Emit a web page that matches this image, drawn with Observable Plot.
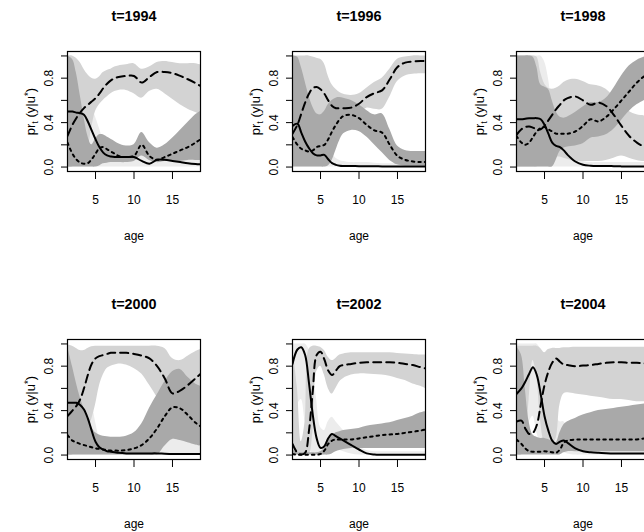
<!DOCTYPE html>
<html><head><meta charset="utf-8">
<script src="https://cdn.jsdelivr.net/npm/d3@7"></script>
<script src="https://cdn.jsdelivr.net/npm/@observablehq/plot@0.6"></script>
<style>
html,body{margin:0;padding:0;background:#fff;overflow:hidden}
#wrap{position:relative;width:644px;height:532px;overflow:hidden;background:#fff}
.panel{position:absolute;width:225px;height:288px}
</style>
</head><body><div id="wrap"></div>
<script>
const ages = [1.36, 2, 2.5, 3, 3.5, 4, 4.5, 5, 5.5, 6, 6.5, 7, 7.5, 8, 9, 10, 11, 12, 13, 14, 15, 16, 17, 18, 18.64];
const years = [1994, 1996, 1998, 2000, 2002, 2004];
const xTicks = [5, 10, 15];
const yTicks = [0, 0.2, 0.4, 0.6, 0.8, 1.0];
const yLabels = ["0.0", "", "0.4", "", "0.8", ""];
const Z = ages.map(() => 0);

// 1994
const solid1994 = [0.50,0.50,0.49,0.485,0.47,0.41,0.33,0.25,0.18,0.13,0.105,0.095,0.09,0.09,0.09,0.09,0.055,0.03,0.065,0.065,0.055,0.045,0.035,0.028,0.025];
const dashed1994 = [0.28,0.38,0.44,0.49,0.53,0.56,0.59,0.62,0.66,0.71,0.75,0.78,0.80,0.81,0.82,0.82,0.76,0.81,0.855,0.855,0.845,0.82,0.79,0.755,0.73];
const dotted1994 = [0.22,0.12,0.07,0.04,0.03,0.035,0.07,0.12,0.17,0.18,0.16,0.14,0.12,0.10,0.09,0.10,0.20,0.10,0.065,0.09,0.12,0.15,0.18,0.22,0.25];
const vlHi1994 = [0.9,0.9,0.85,0.75,0.65,0.6,0.55,0.45,0.35,0.25,0.2,0.17,0.15,0.15,0.15,0.14,0.12,0.09,0.1,0.1,0.09,0.08,0.07,0.06,0.06];
const ltLo1994 = [0,0,0.05,0.1,0.15,0.18,0.35,0.5,0.56,0.6,0.63,0.66,0.68,0.69,0.69,0.66,0.62,0.68,0.7,0.66,0.61,0.56,0.52,0.49,0.47];
const ltHi1994 = [1,1,0.98,0.94,0.88,0.83,0.8,0.79,0.81,0.85,0.87,0.88,0.9,0.91,0.92,0.93,0.88,0.9,0.94,0.95,0.94,0.93,0.93,0.93,0.92];
const dkLo1994 = [0,0,0,0,0,0,0,0,0.01,0.03,0.035,0.04,0.04,0.04,0.04,0.05,0.1,0.06,0.04,0.05,0.05,0.05,0.06,0.06,0.06];
const dkHi1994 = [1,0.97,0.85,0.65,0.45,0.28,0.2,0.25,0.29,0.29,0.27,0.25,0.23,0.21,0.19,0.2,0.31,0.22,0.17,0.2,0.26,0.33,0.4,0.47,0.5];

// 1996
const solid1996 = [0.37,0.39,0.31,0.23,0.17,0.125,0.105,0.105,0.11,0.07,0.035,0.02,0.012,0.01,0.01,0.008,0.008,0.008,0.006,0.006,0.005,0.005,0.005,0.005,0.005];
const dashed1996 = [0.3,0.38,0.48,0.58,0.66,0.71,0.72,0.7,0.66,0.6,0.55,0.53,0.53,0.53,0.535,0.57,0.63,0.665,0.69,0.79,0.9,0.94,0.95,0.955,0.955];
const dotted1996 = [0.27,0.2,0.165,0.15,0.14,0.15,0.18,0.19,0.2,0.25,0.32,0.38,0.43,0.46,0.47,0.44,0.38,0.33,0.31,0.2,0.1,0.065,0.05,0.045,0.045];
const vlHi1996 = [0.9,0.85,0.75,0.65,0.55,0.45,0.38,0.32,0.25,0.17,0.12,0.08,0.06,0.05,0.04,0.04,0.04,0.035,0.03,0.03,0.03,0.03,0.03,0.03,0.03];
const ltLo1996 = [0.1,0.15,0.2,0.3,0.38,0.42,0.45,0.46,0.45,0.44,0.44,0.44,0.44,0.44,0.45,0.48,0.53,0.52,0.52,0.63,0.77,0.82,0.835,0.84,0.84];
const ltHi1996 = [1,1,1,1,1,0.99,0.98,0.97,0.93,0.82,0.74,0.7,0.67,0.655,0.645,0.66,0.71,0.76,0.8,0.88,0.97,0.99,1,1,1];
const dkLo1996 = [0,0,0,0,0,0,0,0,0,0.01,0.06,0.15,0.24,0.3,0.33,0.32,0.27,0.2,0.13,0.06,0.02,0.01,0.01,0.01,0.01];
const dkHi1996 = [1,0.99,0.9,0.77,0.64,0.54,0.48,0.47,0.5,0.56,0.6,0.62,0.625,0.62,0.6,0.56,0.51,0.47,0.48,0.34,0.19,0.15,0.14,0.14,0.14];

// 1998
const solid1998 = [0.43,0.43,0.435,0.44,0.44,0.44,0.43,0.38,0.3,0.22,0.19,0.18,0.15,0.11,0.05,0.02,0.012,0.01,0.01,0.008,0.006,0.005,0.005,0.005,0.005];
const dashed1998 = [0.29,0.34,0.36,0.365,0.355,0.34,0.34,0.37,0.42,0.47,0.52,0.56,0.6,0.62,0.635,0.6,0.56,0.58,0.55,0.47,0.37,0.28,0.22,0.18,0.16];
const dotted1998 = [0.28,0.22,0.2,0.22,0.27,0.32,0.35,0.36,0.34,0.32,0.3,0.3,0.3,0.3,0.32,0.37,0.43,0.41,0.45,0.52,0.6,0.68,0.76,0.82,0.85];
const vlHi1998 = [1,1,1,1,1,1,1,0.95,0.8,0.55,0.38,0.3,0.22,0.16,0.08,0.05,0.04,0.04,0.04,0.04,0.04,0.04,0.04,0.04,0.04];
const ltLo1998 = [0,0,0,0,0,0,0.02,0.04,0.06,0.08,0.09,0.09,0.08,0.07,0.05,0.05,0.05,0.05,0.06,0.08,0.1,0.08,0.06,0.05,0.05];
const ltHi1998 = [1,1,1,1,1,0.99,0.85,0.75,0.71,0.7,0.71,0.73,0.76,0.78,0.79,0.77,0.74,0.73,0.7,0.63,0.56,0.5,0.47,0.46,0.45];
const dkLo1998 = [0,0,0,0,0,0,0,0,0,0,0.06,0.14,0.17,0.18,0.19,0.21,0.26,0.27,0.29,0.34,0.42,0.5,0.56,0.6,0.62];
const dkHi1998 = [1,1,1,1,0.99,0.9,0.74,0.72,0.7,0.6,0.5,0.45,0.44,0.45,0.49,0.54,0.58,0.58,0.62,0.71,0.82,0.91,0.96,0.99,1];

// 2000
const solid2000 = [0.47,0.47,0.47,0.45,0.41,0.33,0.22,0.12,0.07,0.05,0.035,0.03,0.025,0.02,0.015,0.015,0.015,0.015,0.015,0.012,0.01,0.01,0.01,0.01,0.01];
const dashed2000 = [0.35,0.4,0.44,0.5,0.6,0.72,0.82,0.87,0.89,0.9,0.91,0.92,0.92,0.92,0.92,0.91,0.895,0.87,0.8,0.69,0.555,0.58,0.63,0.69,0.73];
const dotted2000 = [0.18,0.13,0.115,0.1,0.09,0.08,0.07,0.06,0.055,0.05,0.045,0.04,0.04,0.04,0.045,0.06,0.09,0.15,0.24,0.35,0.43,0.42,0.36,0.29,0.26];
const vlHi2000 = [0.75,0.75,0.72,0.7,0.65,0.58,0.48,0.3,0.15,0.08,0.05,0.04,0.04,0.04,0.04,0.04,0.04,0.04,0.05,0.1,0.14,0.14,0.13,0.12,0.12];
const ltLo2000 = [0,0,0.05,0.1,0.15,0.22,0.32,0.45,0.62,0.72,0.78,0.8,0.81,0.82,0.81,0.78,0.73,0.63,0.52,0.4,0.3,0.3,0.35,0.4,0.42];
const ltHi2000 = [0.99,0.98,0.96,0.94,0.94,0.96,0.975,0.98,0.98,0.98,0.98,0.98,0.98,0.98,0.98,0.98,0.98,0.98,0.98,0.96,0.87,0.85,0.89,0.93,0.95];
const dkLo2000 = [0,0,0,0,0,0,0,0,0,0,0,0,0,0,0,0,0,0,0,0.08,0.14,0.13,0.11,0.09,0.08];
const dkHi2000 = [0.98,0.8,0.65,0.52,0.42,0.33,0.25,0.2,0.18,0.17,0.165,0.16,0.16,0.16,0.17,0.2,0.28,0.42,0.54,0.66,0.75,0.77,0.7,0.64,0.62];

// 2002
const solid2002 = [0.82,0.95,0.97,0.9,0.65,0.36,0.15,0.065,0.08,0.15,0.19,0.17,0.15,0.13,0.09,0.05,0.015,0.005,0.003,0.002,0.002,0.002,0.002,0.002,0.002];
const dashed2002 = [0.1,0.02,0.005,0.02,0.22,0.58,0.9,0.93,0.86,0.76,0.72,0.76,0.8,0.81,0.82,0.83,0.835,0.835,0.835,0.835,0.83,0.82,0.81,0.79,0.78];
const dotted2002 = [0.01,0.003,0.003,0.003,0.003,0.003,0.003,0.01,0.04,0.1,0.13,0.14,0.14,0.14,0.14,0.15,0.16,0.17,0.18,0.185,0.19,0.2,0.21,0.22,0.23];
const vlLo2002 = [0.3,0.45,0.5,0.3,0.1,0,0,0,0,0.02,0.05,0.05,0.04,0.03,0.01,0,0,0,0,0,0,0,0,0,0];
const vlHi2002 = [1,1,1,1,0.95,0.8,0.5,0.25,0.22,0.3,0.34,0.3,0.26,0.22,0.14,0.08,0.04,0.03,0.03,0.03,0.03,0.03,0.03,0.03,0.03];
const ltLo2002 = [0,0,0,0,0,0.2,0.75,0.8,0.72,0.6,0.55,0.6,0.66,0.69,0.72,0.73,0.73,0.725,0.72,0.71,0.69,0.67,0.64,0.62,0.6];
const ltHi2002 = [0.98,0.6,0.12,0.3,0.95,0.98,0.98,0.97,0.94,0.88,0.85,0.87,0.9,0.91,0.92,0.92,0.92,0.92,0.92,0.92,0.915,0.91,0.905,0.9,0.9];
const dkLo2002 = [0,0,0,0,0,0,0,0,0,0,0.01,0.03,0.04,0.05,0.06,0.06,0.06,0.06,0.06,0.06,0.06,0.06,0.06,0.06,0.06];
const dkHi2002 = [0.05,0.02,0.02,0.02,0.02,0.02,0.02,0.03,0.06,0.12,0.17,0.2,0.21,0.22,0.23,0.24,0.26,0.27,0.28,0.29,0.31,0.33,0.35,0.38,0.39];

// 2004
const solid2004 = [0.55,0.6,0.66,0.73,0.79,0.72,0.55,0.35,0.22,0.13,0.1,0.12,0.13,0.11,0.06,0.035,0.025,0.02,0.017,0.015,0.015,0.015,0.015,0.015,0.015];
const dashed2004 = [0.3,0.31,0.24,0.19,0.2,0.27,0.45,0.63,0.75,0.83,0.87,0.84,0.815,0.81,0.8,0.805,0.81,0.82,0.83,0.835,0.835,0.83,0.83,0.825,0.82];
const dotted2004 = [0.14,0.1,0.06,0.035,0.03,0.03,0.03,0.035,0.03,0.025,0.02,0.05,0.11,0.13,0.14,0.14,0.14,0.14,0.14,0.14,0.14,0.14,0.14,0.15,0.15];
const vlLo2004 = [0.2,0.2,0.25,0.3,0.35,0.2,0.1,0.05,0.03,0.03,0.03,0.03,0.02,0.01,0,0,0,0,0,0,0,0,0,0,0];
const vlHi2004 = [1,1,1,1,1,1,0.95,0.85,0.7,0.5,0.35,0.3,0.3,0.25,0.15,0.1,0.06,0.06,0.06,0.06,0.06,0.06,0.06,0.06,0.06];
const ltLo2004 = [0,0,0.1,0.5,0.85,0.7,0.3,0.12,0.1,0.1,0.15,0.45,0.55,0.56,0.55,0.54,0.53,0.52,0.51,0.5,0.5,0.49,0.48,0.48,0.48];
const ltHi2004 = [0.98,0.98,0.98,0.98,0.98,0.98,0.96,0.92,0.95,0.96,0.96,0.96,0.965,0.965,0.97,0.97,0.97,0.97,0.97,0.97,0.97,0.97,0.97,0.97,0.97];
const dkLo2004 = [0,0,0,0,0,0,0,0,0,0,0,0,0.02,0.03,0.03,0.03,0.03,0.03,0.03,0.03,0.03,0.03,0.03,0.03,0.03];
const dkHi2004 = [0.98,0.9,0.6,0.3,0.18,0.16,0.15,0.15,0.14,0.12,0.11,0.2,0.27,0.3,0.33,0.36,0.38,0.4,0.41,0.42,0.43,0.44,0.45,0.46,0.47];

const panels = [
  {year: 1994, solid: solid1994, dashed: dashed1994, dotted: dotted1994, vlLo: Z, vlHi: vlHi1994, ltLo: ltLo1994, ltHi: ltHi1994, dkLo: dkLo1994, dkHi: dkHi1994},
  {year: 1996, solid: solid1996, dashed: dashed1996, dotted: dotted1996, vlLo: Z, vlHi: vlHi1996, ltLo: ltLo1996, ltHi: ltHi1996, dkLo: dkLo1996, dkHi: dkHi1996},
  {year: 1998, solid: solid1998, dashed: dashed1998, dotted: dotted1998, vlLo: Z, vlHi: vlHi1998, ltLo: ltLo1998, ltHi: ltHi1998, dkLo: dkLo1998, dkHi: dkHi1998},
  {year: 2000, solid: solid2000, dashed: dashed2000, dotted: dotted2000, vlLo: Z, vlHi: vlHi2000, ltLo: ltLo2000, ltHi: ltHi2000, dkLo: dkLo2000, dkHi: dkHi2000},
  {year: 2002, solid: solid2002, dashed: dashed2002, dotted: dotted2002, vlLo: vlLo2002, vlHi: vlHi2002, ltLo: ltLo2002, ltHi: ltHi2002, dkLo: dkLo2002, dkHi: dkHi2002},
  {year: 2004, solid: solid2004, dashed: dashed2004, dotted: dotted2004, vlLo: vlLo2004, vlHi: vlHi2004, ltLo: ltLo2004, ltHi: ltHi2004, dkLo: dkLo2004, dkHi: dkHi2004}
];

const FONT = "'Liberation Sans', Arial, Helvetica, sans-serif";
const VL = "#ececec", LT = "#d3d3d3", DK = "#a9a9a9";

function makePanel(p) {
  const rows = ages.map((a, i) => ({
    age: a, solid: p.solid[i], dashed: p.dashed[i], dotted: p.dotted[i],
    vlLo: p.vlLo[i], vlHi: p.vlHi[i], ltLo: p.ltLo[i], ltHi: p.ltHi[i], dkLo: p.dkLo[i], dkHi: p.dkHi[i]
  }));
  const curve = "catmull-rom";
  return Plot.plot({
    width: 225, height: 288,
    marginLeft: 67, marginRight: 25, marginTop: 51, marginBottom: 117,
    style: {fontFamily: FONT, fontSize: "12px", color: "black", background: "white", overflow: "visible"},
    x: {domain: [1.36, 18.64]},
    y: {domain: [-0.04, 1.04]},
    marks: [
      Plot.areaY(rows, {x: "age", y1: "vlLo", y2: "vlHi", fill: VL, curve, clip: true}),
      Plot.areaY(rows, {x: "age", y1: "ltLo", y2: "ltHi", fill: LT, curve, clip: true}),
      Plot.areaY(rows, {x: "age", y1: "dkLo", y2: "dkHi", fill: DK, curve, clip: true}),
      Plot.lineY(rows, {x: "age", y: "dotted", stroke: "black", strokeWidth: 2, strokeDasharray: "2.5,4", curve, clip: true}),
      Plot.lineY(rows, {x: "age", y: "dashed", stroke: "black", strokeWidth: 2, strokeDasharray: "8,5", curve, clip: true}),
      Plot.lineY(rows, {x: "age", y: "solid", stroke: "black", strokeWidth: 2, curve, clip: true}),
      Plot.frame({stroke: "black", strokeWidth: 1.2}),
      Plot.axisX({ticks: xTicks, tickSize: 8, tickPadding: 15.5, tickFormat: d => String(d), label: null, fontSize: 12}),
      Plot.axisY({ticks: yTicks, tickSize: 6, tickPadding: 9, tickRotate: -90, textAnchor: "middle", lineAnchor: "bottom",
                  tickFormat: d => yLabels[yTicks.indexOf(d)], label: null, fontSize: 12}),
      Plot.text([`t=${p.year}`], {text: d => d, frameAnchor: "top", dy: -30.5, lineAnchor: "bottom", fontWeight: "bold", fontSize: 14.4}),
      Plot.text(["age"], {text: d => d, frameAnchor: "bottom", dy: 68.5, lineAnchor: "bottom", fontSize: 12}),
      Plot.text(["pr (y|u*)"], {text: d => d, frameAnchor: "left", dx: -33, rotate: -90, textAnchor: "middle", lineAnchor: "bottom", fontSize: 13})
    ]
  });
}

const wrap = document.getElementById("wrap");
const NS = "http://www.w3.org/2000/svg";
function span(txt, attrs) {
  const s = document.createElementNS(NS, "tspan");
  s.textContent = txt;
  for (const k in attrs) s.setAttribute(k, attrs[k]);
  return s;
}
panels.forEach((p, k) => {
  const col = k % 3, row = Math.floor(k / 3);
  const div = document.createElement("div");
  div.className = "panel";
  div.style.left = (col * 224.5) + "px";
  div.style.top = (row * 288) + "px";
  const svg = makePanel(p);
  div.appendChild(svg);
  wrap.appendChild(div);
  svg.querySelectorAll("text").forEach(t => {
    if (t.textContent === "pr (y|u*)") {
      t.textContent = "";
      t.append(
        span("pr", {}),
        span("t", {"font-size": "9", dy: "3"}),
        span(" (y|u", {dy: "-3"}),
        span("*", {"font-size": "10", dy: "-3"}),
        span(")", {dy: "3"})
      );
    }
  });
});
</script>
</body></html>
